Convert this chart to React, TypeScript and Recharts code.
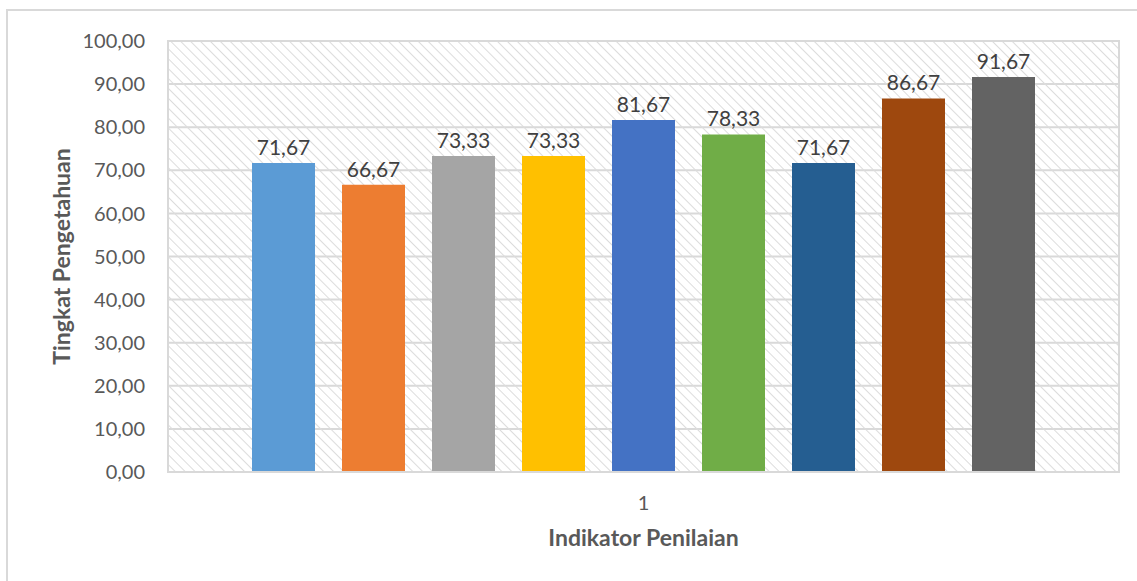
import { BarChart, Bar, XAxis, YAxis, CartesianGrid, LabelList, ReferenceArea } from "recharts";

const categories = ["1"];
const seriesKeys = ["s1", "s2", "s3", "s4", "s5", "s6", "s7", "s8", "s9"];
const seriesValues = [71.67, 66.67, 73.33, 73.33, 81.67, 78.33, 71.67, 86.67, 91.67];
const seriesColors = ["#5B9BD5", "#ED7D31", "#A5A5A5", "#FFC000", "#4472C4", "#70AD47", "#255E91", "#9E480E", "#636363"];
const yTicks = [0, 10, 20, 30, 40, 50, 60, 70, 80, 90, 100];

const data = categories.map((name) => {
  const row: Record<string, string | number> = { name };
  seriesKeys.forEach((k, i) => (row[k] = seriesValues[i]));
  return row;
});

const fmt = (v: number) => v.toFixed(2).replace(".", ",");
const FONT = "Lato, 'Open Sans', sans-serif";

export default function App() {
  return (
    <div style={{ position: "absolute", left: 0, top: 0, width: 1137, height: 581, background: "#fff", fontFamily: FONT }}>
      <div
        style={{
          position: "absolute",
          left: 6,
          top: 9,
          width: 1137,
          height: 581,
          borderLeft: "2px solid #d9d9d9",
          borderTop: "2px solid #d9d9d9",
        }}
      />
      <BarChart
        width={1137}
        height={581}
        data={data}
        margin={{ top: 41, right: 18, bottom: 9, left: 0 }}
        barCategoryGap={84}
        barGap={27}
        style={{ position: "absolute", left: 0, top: 0 }}
      >
        <defs>
          <pattern id="hatch" width="7" height="7" patternUnits="userSpaceOnUse" patternTransform="rotate(-45)">
            <line x1="0" y1="0" x2="0" y2="7" stroke="#dcdcdc" strokeWidth="2" />
          </pattern>
        </defs>
        <ReferenceArea y1={0} y2={100} fill="url(#hatch)" fillOpacity={1} stroke="none" />
        <CartesianGrid vertical={false} stroke="#d9d9d9" strokeWidth={2} />
        <ReferenceArea y1={0} y2={100} fill="none" stroke="#d9d9d9" strokeWidth={2} />
        <XAxis
          dataKey="name"
          height={100}
          axisLine={{ stroke: "#d9d9d9", strokeWidth: 2 }}
          tickLine={false}
          tickSize={0}
          tickMargin={24}
          tick={{ fill: "#595959", fontSize: 20, fontFamily: FONT }}
          label={{ value: "Indikator Penilaian", position: "insideBottom", offset: 26, fill: "#595959", fontSize: 23, fontWeight: 700, fontFamily: FONT }}
        />
        <YAxis
          width={168}
          domain={[0, 100]}
          ticks={yTicks}
          interval={0}
          tickFormatter={fmt}
          axisLine={false}
          tickLine={false}
          tickSize={0}
          tickMargin={23}
          tick={{ fill: "#595959", fontSize: 20, fontFamily: FONT }}
          label={{ value: "Tingkat Pengetahuan", angle: -90, position: "insideLeft", offset: 62, fill: "#595959", fontSize: 23, fontWeight: 700, fontFamily: FONT, style: { textAnchor: "middle" } }}
        />
        {seriesKeys.map((k, i) => (
          <Bar key={k} dataKey={k} fill={seriesColors[i]} isAnimationActive={false}>
            <LabelList dataKey={k} position="top" offset={8} formatter={(v: number) => fmt(v)} fill="#404040" fontSize={21} fontFamily={FONT} />
          </Bar>
        ))}
      </BarChart>
    </div>
  );
}
